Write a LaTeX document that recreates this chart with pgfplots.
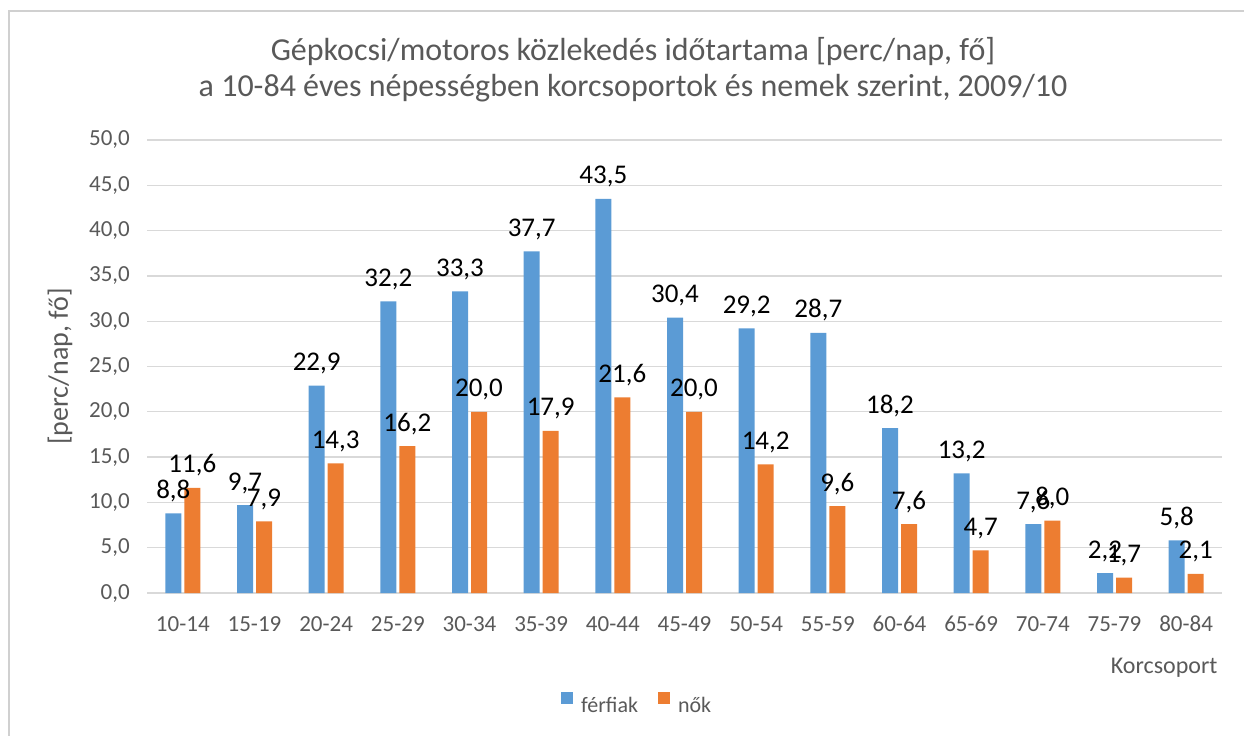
\documentclass[border=0pt]{standalone}
\usepackage{fontspec}
\setmainfont{Carlito}
\usepackage{pgfplots}
\pgfplotsset{compat=1.18}
\definecolor{cblue}{HTML}{5B9BD5}
\definecolor{corange}{HTML}{ED7D31}
\definecolor{tgrey}{HTML}{595959}
\definecolor{ggrey}{HTML}{D9D9D9}
\definecolor{fgrey}{HTML}{D0D0D0}
\pgfplotsset{sq legend/.style={legend image code/.code={\fill[##1] (0bp,2bp) rectangle (12bp,14bp);}}}
\begin{document}
\begin{tikzpicture}
\path[use as bounding box] (0,0) rectangle (1244bp,-736bp);
\draw[fgrey, line width=2bp] (8.5bp,-736bp) -- (8.5bp,-11bp) -- (1244bp,-11bp);
\node[anchor=base, text=tgrey, inner sep=0pt, font=\fontsize{32bp}{38bp}\selectfont] at (633bp,-60bp) {Gépkocsi/motoros közlekedés időtartama [perc/nap, fő]};
\node[anchor=base, text=tgrey, inner sep=0pt, font=\fontsize{32bp}{38bp}\selectfont] at (633bp,-96bp) {a 10-84 éves népességben korcsoportok és nemek szerint, 2009/10};
\begin{axis}[
  at={(147bp,-593bp)}, anchor=south west,
  scale only axis, width=1075bp, height=453bp,
  xmin=-0.5, xmax=14.5, ymin=0, ymax=50,
  ybar=3bp, bar width=16bp,
  xtick={0,...,14},
  xticklabels={10-14,15-19,20-24,25-29,30-34,35-39,40-44,45-49,50-54,55-59,60-64,65-69,70-74,75-79,80-84},
  ytick={0,5,...,50},
  yticklabel={\pgfmathprintnumber[fixed,fixed zerofill,precision=1,use comma,assume math mode=true]{\tick}},
  axis line style={draw=none},
  major tick length=0pt,
  ymajorgrids, grid style={ggrey, line width=1.3bp},
  ticklabel style={inner sep=0pt, text=tgrey, font=\fontsize{23bp}{27bp}\selectfont},
  yticklabel style={anchor=east, xshift=-17bp},
  xticklabel style={anchor=north, yshift=-23bp},
  ylabel={[perc/nap, fő]},
  ylabel style={at={(axis description cs:-0.081,0.5)}, anchor=center, text=tgrey, font=\fontsize{28bp}{33bp}\selectfont},
  xlabel={Korcsoport},
  xlabel style={at={(axis description cs:0.996,-0.1766)}, anchor=base east, inner sep=0pt, text=tgrey, font=\fontsize{24bp}{28bp}\selectfont},
  nodes near coords={\pgfmathprintnumber[fixed,fixed zerofill,precision=1,use comma,assume math mode=true]{\pgfplotspointmeta}},
  every node near coord/.append style={anchor=base, yshift=15bp, inner sep=0pt, text=black, font=\fontsize{27bp}{32bp}\selectfont},
  legend columns=2,
  legend style={at={(axis description cs:0.456,-0.245)}, anchor=center, draw=none, fill=none, text=tgrey, font=\fontsize{22bp}{26bp}\selectfont, /tikz/every odd column/.append style={column sep=6bp}, /tikz/every even column/.append style={column sep=18bp}},
  clip=false,
]
\addplot[fill=cblue, draw=none, sq legend] coordinates {(0,8.8) (1,9.7) (2,22.9) (3,32.2) (4,33.3) (5,37.7) (6,43.5) (7,30.4) (8,29.2) (9,28.7) (10,18.2) (11,13.2) (12,7.6) (13,2.2) (14,5.8)};
\addplot[fill=corange, draw=none, sq legend] coordinates {(0,11.6) (1,7.9) (2,14.3) (3,16.2) (4,20.0) (5,17.9) (6,21.6) (7,20.0) (8,14.2) (9,9.6) (10,7.6) (11,4.7) (12,8.0) (13,1.7) (14,2.1)};
\legend{férfiak, nők}
\end{axis}
\end{tikzpicture}
\end{document}
